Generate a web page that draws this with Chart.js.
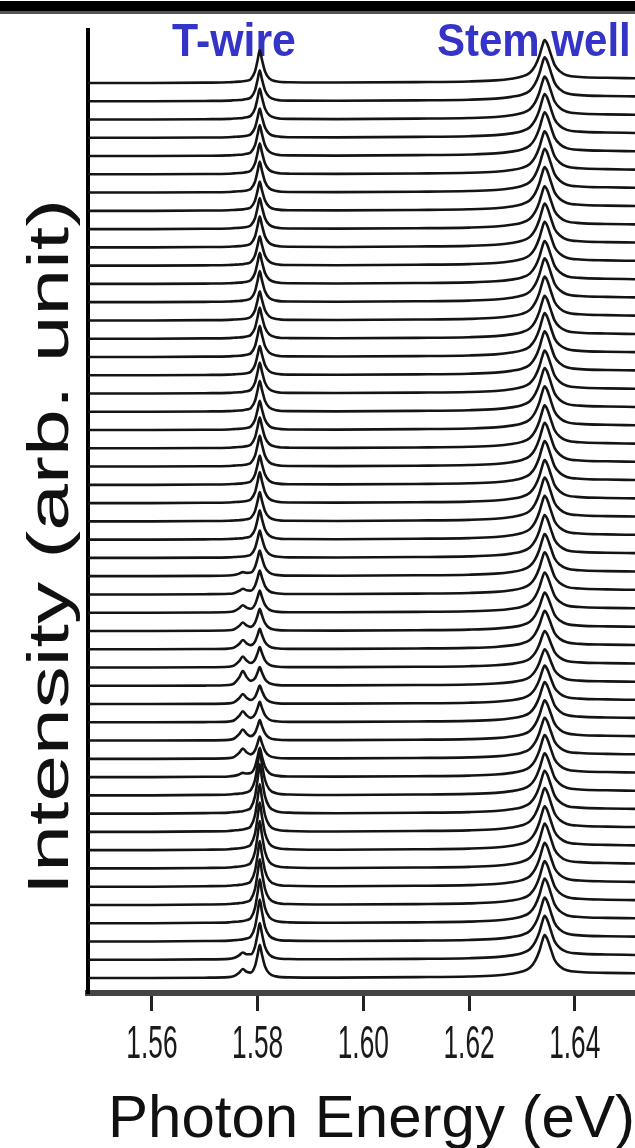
<!DOCTYPE html>
<html>
<head>
<meta charset="utf-8">
<script src="https://cdn.jsdelivr.net/npm/chart.js@4.4.1/dist/chart.umd.min.js"></script>
<style>
html,body{margin:0;padding:0;background:#fff;}
canvas{display:block;}
</style>
</head>
<body>
<canvas id="c" width="635" height="1148"></canvas>
<script>
// Photon energy sample points (eV)
const energy = [1.5479, 1.5600, 1.5700, 1.5745, 1.5755, 1.5765, 1.5772, 1.5779, 1.5787, 1.5795,
                1.5800, 1.5804, 1.5808, 1.5814, 1.5822, 1.5835, 1.5860, 1.5950, 1.6100, 1.6200,
                1.6250, 1.6280, 1.6300, 1.6315, 1.6325, 1.6333, 1.6338, 1.6343, 1.6348, 1.6355,
                1.6362, 1.6372, 1.6385, 1.6410, 1.6460, 1.6514];
// relative line profiles (at the energies above)
const twireShape = [0, 0, 0.01, 0.02, 0.03, 0.04, 0.05, 0.07, 0.12, 0.35,
                    0.7, 1, 0.72, 0.35, 0.14, 0.05, 0.02, 0, 0, 0,
                    0, 0, 0, 0, 0, 0, 0, 0, 0, 0,
                    0, 0, 0, 0, 0, 0];
const sideShape  = [0, 0, 0, 0.03, 0.12, 0.55, 1, 0.55, 0.2, 0.08,
                    0.05, 0.03, 0.02, 0.01, 0, 0, 0, 0, 0, 0,
                    0, 0, 0, 0, 0, 0, 0, 0, 0, 0,
                    0, 0, 0, 0, 0, 0];
const stemShape  = [0, 0, 0, 0, 0, 0, 0, 0, 0, 0,
                    0, 0, 0, 0, 0, 0, 0, 0.01, 0.02, 0.035,
                    0.06, 0.1, 0.15, 0.24, 0.4, 0.63, 0.84, 1, 0.91, 0.66,
                    0.42, 0.27, 0.18, 0.14, 0.12, 0.11];
// per-spectrum peak heights (trace 0 = bottom), in units of the trace spacing
const twireHeight = [1.8, 2.0, 2.3, 2.4, 2.5, 2.5, 2.6, 2.6, 2.6, 2.7,
                     2.4, 1.6, 1.2, 1.1, 1.1, 1.0, 1.0, 1.1, 1.1, 1.2,
                     1.2, 1.3, 1.4, 1.5, 1.6, 1.6, 1.7, 1.6, 1.7, 1.7,
                     1.6, 1.7, 1.7, 1.6, 1.7, 1.7, 1.6, 1.7, 1.7, 1.6,
                     1.7, 1.7, 1.6, 1.7, 1.7, 1.7, 1.6, 1.7, 1.7, 1.8];
const sideHeight  = [0.4, 0.3, 0, 0, 0, 0, 0, 0, 0, 0,
                     0, 0.15, 0.5, 0.55, 0.55, 0.5, 0.75, 0.55, 0.45, 0.4,
                     0.35, 0.25, 0.15, 0, 0, 0, 0, 0, 0, 0,
                     0, 0, 0, 0, 0, 0, 0, 0, 0, 0,
                     0, 0, 0, 0, 0, 0, 0, 0, 0, 0];
const stemHeight  = [2.35, 2.4, 2.4, 2.45, 2.4, 2.4, 2.45, 2.4, 2.4, 2.35,
                     2.3, 2.3, 2.25, 2.2, 2.2, 2.1, 2.0, 2.0, 2.1, 2.1,
                     2.2, 2.3, 2.3, 2.35, 2.4, 2.4, 2.35, 2.4, 2.4, 2.35,
                     2.4, 2.4, 2.35, 2.4, 2.4, 2.35, 2.4, 2.4, 2.35, 2.4,
                     2.4, 2.35, 2.4, 2.4, 2.35, 2.4, 2.4, 2.35, 2.4, 2.35];
const tickValues = [1.56, 1.58, 1.60, 1.62, 1.64];
const tickLabels = ['1.56', '1.58', '1.60', '1.62', '1.64'];
const xTitle = 'Photon Energy (eV)';
const yTitle = 'Intensity (arb. unit)';
const peakLabels = ['T-wire', 'Stem well'];

const datasets = twireHeight.map((_, i) => ({
  data: energy.map((e, k) => ({
    x: e,
    y: i + twireHeight[i] * twireShape[k] + sideHeight[i] * sideShape[k] + stemHeight[i] * stemShape[k]
  })),
  borderColor: '#141414',
  borderWidth: 2.6,
  pointRadius: 0,
  fill: false,
  tension: 0.4,
  cubicInterpolationMode: 'monotone'
}));

const deco = {
  id: 'deco',
  beforeDatasetsDraw(chart) {
    const ctx = chart.ctx;
    ctx.save();
    ctx.fillStyle = '#3434c8';
    ctx.font = 'bold 42px "Liberation Sans", Arial, sans-serif';
    ctx.textBaseline = 'alphabetic';
    ctx.textAlign = 'center';
    ctx.save(); ctx.translate(234, 56); ctx.scale(1.02, 1.1); ctx.fillText(peakLabels[0], 0, 0); ctx.restore();
    ctx.textAlign = 'left';
    ctx.save(); ctx.translate(437, 56); ctx.scale(1, 1.1); ctx.fillText(peakLabels[1], 0, 0); ctx.restore();
    ctx.restore();
  },
  afterDraw(chart) {
    const ctx = chart.ctx;
    const xs = chart.scales.x;
    ctx.save();
    // top frame band
    ctx.fillStyle = '#000';
    ctx.fillRect(0, 1, 635, 10);
    ctx.fillStyle = '#555';
    ctx.fillRect(0, 11, 635, 3);
    // tick labels
    ctx.fillStyle = '#1a1a1a';
    ctx.font = '47px "Liberation Sans", Arial, sans-serif';
    ctx.textAlign = 'center';
    ctx.textBaseline = 'alphabetic';
    tickValues.forEach((v, j) => {
      const px = xs.getPixelForValue(v);
      ctx.save(); ctx.translate(px, 1058); ctx.scale(0.56, 1); ctx.fillText(tickLabels[j], 0, 0); ctx.restore();
    });
    // x title
    ctx.fillStyle = '#111';
    ctx.font = '60px "Liberation Sans", Arial, sans-serif';
    ctx.textAlign = 'left';
    ctx.fillText(xTitle, 108, 1137);
    // y title
    ctx.font = '58px "Liberation Sans", Arial, sans-serif';
    ctx.textAlign = 'center';
    ctx.save(); ctx.translate(68, 547); ctx.rotate(-Math.PI / 2); ctx.scale(1.45, 1); ctx.fillText(yTitle, 0, 0); ctx.restore();
    ctx.restore();
  }
};

new Chart(document.getElementById('c'), {
  type: 'line',
  data: { datasets },
  options: {
    responsive: false,
    animation: false,
    devicePixelRatio: 1,
    layout: { padding: { top: 30, right: 0, left: 0, bottom: 0 } },
    plugins: { legend: { display: false }, tooltip: { enabled: false } },
    scales: {
      x: {
        type: 'linear',
        min: 1.5479,
        max: 1.6514,
        afterBuildTicks: s => { s.ticks = tickValues.map(v => ({ value: v })); },
        afterFit: s => { s.height = 155; },
        ticks: { display: false },
        grid: { display: true, drawOnChartArea: false, drawTicks: true, tickLength: 18, lineWidth: 3, color: '#222' },
        border: { display: true, color: '#444', width: 6 }
      },
      y: {
        type: 'linear',
        min: -0.82,
        max: 51.9,
        afterFit: s => { s.width = 88; },
        ticks: { display: false },
        grid: { display: true, drawOnChartArea: false, drawTicks: false },
        border: { display: true, color: '#000', width: 4 }
      }
    }
  },
  plugins: [deco]
});
</script>
</body>
</html>
